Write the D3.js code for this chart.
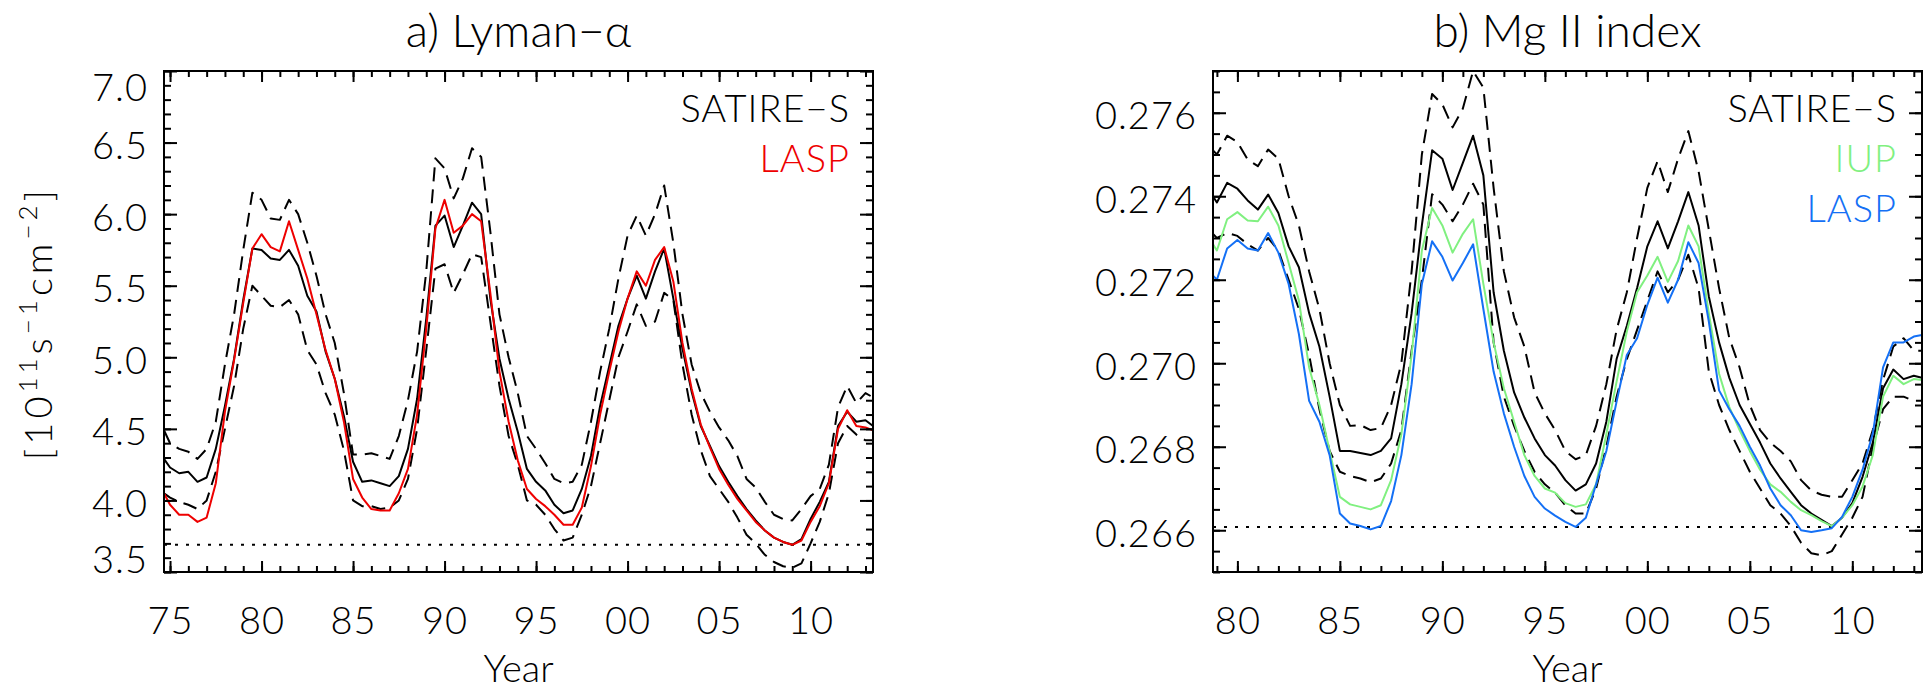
<!DOCTYPE html>
<html>
<head>
<meta charset="utf-8">
<script src="https://cdn.jsdelivr.net/npm/d3@7"></script>
<style>
  body { margin: 0; background: #fff; }
  text { font-family: Lato, "Open Sans", "DejaVu Sans", sans-serif; font-weight: 300; fill: #000; }
</style>
</head>
<body>
<script>
var W = 1926, H = 692,
    top_ = 71, bottom = 572;

// ---- a) Lyman-alpha, 10^11 s^-1 cm^-2
var yearsA = [1974.67, 1975, 1975.5, 1976, 1976.5, 1977, 1977.5, 1978, 1978.5, 1979, 1979.5,
  1980, 1980.5, 1981, 1981.5, 1982, 1982.5, 1983, 1983.5, 1984, 1984.5, 1985, 1985.5, 1986, 1986.5,
  1987, 1987.5, 1988, 1988.5, 1989, 1989.5, 1990, 1990.5, 1991, 1991.5, 1992, 1992.5, 1993, 1993.5,
  1994, 1994.5, 1995, 1995.5, 1996, 1996.5, 1997, 1997.5, 1998, 1998.5, 1999, 1999.5, 2000, 2000.5,
  2001, 2001.5, 2002, 2002.5, 2003, 2003.5, 2004, 2004.5, 2005, 2005.5, 2006, 2006.5, 2007, 2007.5,
  2008, 2008.5, 2009, 2009.5, 2010, 2010.5, 2011, 2011.5, 2012, 2012.5, 2013, 2013.41];

var lyaSatire = [4.29, 4.23, 4.19, 4.20, 4.13, 4.16, 4.36, 4.66, 4.99, 5.40,
  5.76, 5.75, 5.69, 5.68, 5.75, 5.64, 5.43, 5.32, 5.04, 4.85,
  4.59, 4.27, 4.13, 4.14, 4.12, 4.10, 4.17, 4.36, 4.71, 5.27,
  5.92, 5.99, 5.77, 5.92, 6.08, 6.00, 5.41, 4.99, 4.71, 4.48,
  4.22, 4.13, 4.07, 3.97, 3.91, 3.93, 4.08, 4.31, 4.66, 4.94,
  5.22, 5.41, 5.57, 5.41, 5.60, 5.76, 5.41, 5.06, 4.76, 4.52,
  4.38, 4.24, 4.13, 4.03, 3.94, 3.86, 3.79, 3.74, 3.71, 3.69,
  3.73, 3.87, 3.99, 4.13, 4.52, 4.62, 4.55, 4.56, 4.52];

var lyaUpper = [4.49, 4.40, 4.36, 4.34, 4.29, 4.36, 4.55, 4.95, 5.30, 5.75,
  6.15, 6.10, 5.97, 5.96, 6.10, 6.00, 5.80, 5.57, 5.30, 5.10,
  4.75, 4.32, 4.32, 4.33, 4.31, 4.29, 4.45, 4.70, 5.04, 5.60,
  6.39, 6.32, 6.11, 6.25, 6.46, 6.40, 5.88, 5.30, 5.00, 4.75,
  4.45, 4.36, 4.26, 4.15, 4.12, 4.13, 4.25, 4.55, 4.90, 5.20,
  5.55, 5.85, 5.99, 5.85, 6.00, 6.20, 5.80, 5.30, 4.95, 4.75,
  4.62, 4.51, 4.42, 4.31, 4.15, 4.09, 3.99, 3.90, 3.87, 3.86,
  3.94, 4.03, 4.08, 4.25, 4.65, 4.80, 4.68, 4.75, 4.72];

var lyaLower = [4.05, 4.02, 3.99, 3.97, 3.94, 4.00, 4.20, 4.50, 4.80, 5.20,
  5.50, 5.43, 5.36, 5.35, 5.40, 5.30, 5.05, 4.95, 4.75, 4.60,
  4.35, 4.00, 3.96, 3.96, 3.94, 3.95, 4.00, 4.15, 4.50, 5.05,
  5.62, 5.65, 5.45, 5.58, 5.72, 5.70, 5.25, 4.80, 4.45, 4.25,
  4.00, 3.97, 3.90, 3.80, 3.72, 3.74, 3.90, 4.10, 4.40, 4.70,
  5.00, 5.18, 5.37, 5.22, 5.25, 5.45, 5.40, 4.95, 4.60, 4.35,
  4.17, 4.08, 3.99, 3.88, 3.76, 3.70, 3.62, 3.57, 3.54, 3.53,
  3.56, 3.70, 3.85, 4.05, 4.40, 4.52, 4.46, 4.42, 4.42];

var lyaLasp = [4.05, 3.97, 3.90, 3.90, 3.85, 3.88, 4.12, 4.62, 4.98, 5.38,
  5.76, 5.86, 5.77, 5.74, 5.95, 5.75, 5.55, 5.30, 5.05, 4.85,
  4.55, 4.15, 4.02, 3.94, 3.93, 3.93, 4.05, 4.22, 4.60, 5.20,
  5.90, 6.10, 5.87, 5.92, 6.00, 5.95, 5.45, 4.90, 4.55, 4.28,
  4.08, 4.01, 3.96, 3.90, 3.83, 3.83, 3.95, 4.24, 4.60, 4.90,
  5.18, 5.41, 5.60, 5.50, 5.68, 5.77, 5.53, 5.10, 4.78, 4.53,
  4.37, 4.22, 4.11, 4.01, 3.93, 3.85, 3.79, 3.74, 3.71, 3.69,
  3.72, 3.85, 3.96, 4.12, 4.50, 4.63, 4.52, 4.51, 4.49];

var lyaMinLevel = 3.69;

// ---- b) Mg II index
var yearsB = [1978.81, 1979, 1979.5, 1980, 1980.5, 1981, 1981.5, 1982, 1982.5, 1983, 1983.5,
  1984, 1984.5, 1985, 1985.5, 1986, 1986.5, 1987, 1987.5, 1988, 1988.5, 1989, 1989.5, 1990, 1990.5,
  1991, 1991.5, 1992, 1992.5, 1993, 1993.5, 1994, 1994.5, 1995, 1995.5, 1996, 1996.5, 1997, 1997.5,
  1998, 1998.5, 1999, 1999.5, 2000, 2000.5, 2001, 2001.5, 2002, 2002.5, 2003, 2003.5, 2004, 2004.5,
  2005, 2005.5, 2006, 2006.5, 2007, 2007.5, 2008, 2008.5, 2009, 2009.5, 2010, 2010.5, 2011, 2011.5,
  2012, 2012.5, 2013, 2013.40];

var mgSatire = [0.27400, 0.27385, 0.27432, 0.27418, 0.27390, 0.27368, 0.27404, 0.27360, 0.27280, 0.27230,
  0.27120, 0.27040, 0.26920, 0.26790, 0.26790, 0.26785, 0.26780, 0.26790, 0.26820, 0.26950,
  0.27120, 0.27330, 0.27510, 0.27490, 0.27415, 0.27480, 0.27545, 0.27450, 0.27170, 0.27030,
  0.26930, 0.26870, 0.26820, 0.26780, 0.26755, 0.26720, 0.26695, 0.26710, 0.26760, 0.26860,
  0.27010, 0.27090, 0.27180, 0.27280, 0.27340, 0.27275, 0.27340, 0.27410, 0.27330, 0.27160,
  0.27050, 0.26965, 0.26900, 0.26855, 0.26810, 0.26760, 0.26724, 0.26692, 0.26660, 0.26640,
  0.26625, 0.26610, 0.26630, 0.26665, 0.26728, 0.26810, 0.26940, 0.26985, 0.26962, 0.26970, 0.26965];

var mgUpper = [0.27510, 0.27500, 0.27545, 0.27530, 0.27488, 0.27472, 0.27512, 0.27490, 0.27400, 0.27330,
  0.27220, 0.27130, 0.27000, 0.26900, 0.26850, 0.26852, 0.26840, 0.26845, 0.26900, 0.27000,
  0.27220, 0.27500, 0.27645, 0.27620, 0.27565, 0.27610, 0.27700, 0.27660, 0.27420, 0.27220,
  0.27110, 0.27040, 0.26930, 0.26880, 0.26840, 0.26790, 0.26770, 0.26780, 0.26850, 0.26950,
  0.27080, 0.27170, 0.27300, 0.27420, 0.27484, 0.27410, 0.27490, 0.27556, 0.27460, 0.27320,
  0.27180, 0.27060, 0.26990, 0.26900, 0.26840, 0.26810, 0.26790, 0.26765, 0.26720, 0.26695,
  0.26685, 0.26680, 0.26680, 0.26720, 0.26760, 0.26840, 0.26960, 0.27040, 0.27060, 0.27030, 0.27030];

var mgLower = [0.27310, 0.27300, 0.27312, 0.27305, 0.27285, 0.27270, 0.27300, 0.27270, 0.27200, 0.27130,
  0.27020, 0.26890, 0.26790, 0.26740, 0.26730, 0.26724, 0.26715, 0.26724, 0.26760, 0.26840,
  0.27030, 0.27200, 0.27405, 0.27380, 0.27340, 0.27380, 0.27430, 0.27380, 0.27050, 0.26920,
  0.26850, 0.26790, 0.26740, 0.26710, 0.26690, 0.26660, 0.26640, 0.26640, 0.26700, 0.26800,
  0.26920, 0.27010, 0.27080, 0.27150, 0.27220, 0.27170, 0.27200, 0.27260, 0.27180, 0.26980,
  0.26900, 0.26840, 0.26790, 0.26740, 0.26700, 0.26660, 0.26640, 0.26610, 0.26570, 0.26545,
  0.26540, 0.26550, 0.26590, 0.26630, 0.26680, 0.26800, 0.26890, 0.26920, 0.26920, 0.26910, 0.26910];

var mgIup = [0.27285, 0.27270, 0.27345, 0.27362, 0.27342, 0.27340, 0.27375, 0.27330, 0.27240, 0.27150,
  0.26990, 0.26900, 0.26790, 0.26680, 0.26662, 0.26656, 0.26650, 0.26660, 0.26720, 0.26830,
  0.27020, 0.27270, 0.27372, 0.27330, 0.27265, 0.27310, 0.27345, 0.27190, 0.27050, 0.26940,
  0.26860, 0.26780, 0.26730, 0.26700, 0.26690, 0.26665, 0.26656, 0.26662, 0.26710, 0.26830,
  0.26956, 0.27076, 0.27170, 0.27210, 0.27255, 0.27195, 0.27245, 0.27330, 0.27280, 0.27120,
  0.26975, 0.26895, 0.26840, 0.26790, 0.26745, 0.26710, 0.26692, 0.26668, 0.26648, 0.26636,
  0.26622, 0.26610, 0.26630, 0.26660, 0.26705, 0.26780, 0.26920, 0.26970, 0.26950, 0.26962, 0.26960];

var mgLasp = [0.27210, 0.27200, 0.27275, 0.27295, 0.27275, 0.27270, 0.27312, 0.27265, 0.27190, 0.27070,
  0.26910, 0.26860, 0.26780, 0.26640, 0.26616, 0.26610, 0.26602, 0.26610, 0.26670, 0.26780,
  0.26950, 0.27190, 0.27292, 0.27255, 0.27198, 0.27240, 0.27285, 0.27130, 0.26980, 0.26880,
  0.26800, 0.26730, 0.26680, 0.26652, 0.26635, 0.26620, 0.26608, 0.26630, 0.26710, 0.26790,
  0.26908, 0.27020, 0.27060, 0.27140, 0.27205, 0.27145, 0.27200, 0.27290, 0.27240, 0.27100,
  0.26935, 0.26890, 0.26850, 0.26800, 0.26755, 0.26700, 0.26660, 0.26636, 0.26600, 0.26596,
  0.26600, 0.26605, 0.26632, 0.26680, 0.26745, 0.26832, 0.26990, 0.27050, 0.27050, 0.27064, 0.27068];

var mgMinLevel = 0.26608;

// ticks
var xTicksA = [1975, 1980, 1985, 1990, 1995, 2000, 2005, 2010],
    xTicksB = [1980, 1985, 1990, 1995, 2000, 2005, 2010],
    yTicksA = [3.5, 4.0, 4.5, 5.0, 5.5, 6.0, 6.5, 7.0],
    yTicksB = [0.266, 0.268, 0.270, 0.272, 0.274, 0.276];

var svg = d3.select("body").append("svg")
    .attr("width", W).attr("height", H);

function panel(p) {
  var x = d3.scaleLinear().domain(p.xDomain).range([p.left, p.right]),
      y = d3.scaleLinear().domain(p.yDomain).range([bottom, top_]);

  var g = svg.append("g");

  g.append("clipPath").attr("id", p.id + "clip")
    .append("rect")
      .attr("x", p.left).attr("y", top_)
      .attr("width", p.right - p.left).attr("height", bottom - top_);

  var plot = g.append("g").attr("clip-path", "url(#" + p.id + "clip)");

  // reference level
  plot.append("line")
      .attr("x1", p.left).attr("x2", p.right)
      .attr("y1", y(p.minLevel)).attr("y2", y(p.minLevel))
      .attr("stroke", "#000").attr("stroke-width", 2)
      .attr("stroke-dasharray", "3,8");

  var line = d3.line()
      .x(function(d, i) { return x(p.years[i]); })
      .y(function(d) { return y(d); });

  p.series.forEach(function(s) {
    plot.append("path")
        .datum(s.values)
        .attr("d", line)
        .attr("fill", "none")
        .attr("stroke", s.color)
        .attr("stroke-width", 2)
        .attr("stroke-linejoin", "round")
        .attr("stroke-dasharray", s.dash ? "14,8" : null);
  });

  // axes: major ticks inward + labels, minor ticks, mirrored on top/right
  var fmtX = function(d) { return d3.format("02d")(d % 100); };

  g.append("g").attr("transform", "translate(0," + bottom + ")")
      .call(d3.axisBottom(x).tickValues(p.xTicks).tickSize(-11).tickPadding(35).tickFormat(fmtX));
  g.append("g").attr("transform", "translate(0," + bottom + ")")
      .call(d3.axisBottom(x).tickValues(p.xMinor).tickSize(-6).tickFormat(""));
  g.append("g").attr("transform", "translate(0," + top_ + ")")
      .call(d3.axisTop(x).tickValues(p.xTicks).tickSize(-11).tickFormat(""));
  g.append("g").attr("transform", "translate(0," + top_ + ")")
      .call(d3.axisTop(x).tickValues(p.xMinor).tickSize(-6).tickFormat(""));

  var yl = g.append("g").attr("transform", "translate(" + p.left + ",0)")
      .call(d3.axisLeft(y).tickValues(p.yTicks).tickSize(-13).tickPadding(16).tickFormat(d3.format(p.yFormat)));
  g.append("g").attr("transform", "translate(" + p.left + ",0)")
      .call(d3.axisLeft(y).tickValues(p.yMinor).tickSize(-7).tickFormat(""));
  g.append("g").attr("transform", "translate(" + p.right + ",0)")
      .call(d3.axisRight(y).tickValues(p.yTicks).tickSize(-13).tickFormat(""));
  g.append("g").attr("transform", "translate(" + p.right + ",0)")
      .call(d3.axisRight(y).tickValues(p.yMinor).tickSize(-7).tickFormat(""));

  g.selectAll(".domain").remove();
  g.selectAll(".tick line").attr("stroke", "#000").attr("stroke-width", 2);
  g.selectAll(".tick text").attr("font-size", 38).attr("font-family", null).attr("letter-spacing", 1);

  // keep end labels inside the frame like IDL does
  yl.selectAll(".tick text")
      .attr("dy", "0.42em")
      .attr("y", function(d) {
        var py = y(d);
        if (py - top_ < 20) return 14;
        if (bottom - py < 20) return -15;
        return 0;
      });

  g.append("rect")
      .attr("x", p.left).attr("y", top_)
      .attr("width", p.right - p.left).attr("height", bottom - top_)
      .attr("fill", "none").attr("stroke", "#000").attr("stroke-width", 2);

  g.append("text")
      .attr("x", (p.left + p.right) / 2).attr("y", 47)
      .attr("text-anchor", "middle").attr("font-size", 46)
      .text(p.title);

  g.append("text")
      .attr("x", (p.left + p.right) / 2).attr("y", 682)
      .attr("text-anchor", "middle").attr("font-size", 38)
      .text("Year");

  p.legend.forEach(function(l, i) {
    g.append("text")
        .attr("x", p.right - p.legendInset).attr("y", 122 + i * 50)
        .attr("text-anchor", "end").attr("font-size", 38)
        .attr("letter-spacing", 1)
        .style("fill", l.color)
        .text(l.name);
  });
}

panel({
  id: "a", left: 164, right: 873,
  xDomain: [1974.67, 2013.41], yDomain: [3.5, 7.0],
  xTicks: xTicksA, xMinor: d3.range(1975, 2014),
  yTicks: yTicksA, yMinor: d3.range(35, 71).map(function(v) { return v / 10; }),
  yFormat: ".1f",
  years: yearsA, minLevel: lyaMinLevel,
  series: [
    {values: lyaUpper, color: "#000", dash: true},
    {values: lyaLower, color: "#000", dash: true},
    {values: lyaSatire, color: "#000"},
    {values: lyaLasp, color: "#ee0000"}
  ],
  title: "a) Lyman\u2212\u03b1",
  legendInset: 23,
  legend: [{name: "SATIRE\u2212S", color: "#000"}, {name: "LASP", color: "#ee0000"}]
});

panel({
  id: "b", left: 1213, right: 1922,
  xDomain: [1978.81, 2013.40], yDomain: [0.265, 0.277],
  xTicks: xTicksB, xMinor: d3.range(1979, 2014),
  yTicks: yTicksB, yMinor: d3.range(530, 555).map(function(v) { return v / 2000; }),
  yFormat: ".3f",
  years: yearsB, minLevel: mgMinLevel,
  series: [
    {values: mgUpper, color: "#000", dash: true},
    {values: mgLower, color: "#000", dash: true},
    {values: mgSatire, color: "#000"},
    {values: mgIup, color: "#80f080"},
    {values: mgLasp, color: "#1470f5"}
  ],
  title: "b) Mg II index",
  legendInset: 25,
  legend: [{name: "SATIRE\u2212S", color: "#000"}, {name: "IUP", color: "#80f080"}, {name: "LASP", color: "#1470f5"}]
});

// y label of panel a
var ylab = svg.append("text")
    .attr("transform", "translate(52,323) rotate(-90)")
    .attr("text-anchor", "middle")
    .attr("font-size", 38)
    .attr("letter-spacing", 4);
ylab.append("tspan").text("[10");
ylab.append("tspan").attr("dy", -15).attr("font-size", 26).text("11");
ylab.append("tspan").attr("dy", 15).text("s");
ylab.append("tspan").attr("dy", -15).attr("font-size", 26).text("\u22121");
ylab.append("tspan").attr("dy", 15).text("cm");
ylab.append("tspan").attr("dy", -15).attr("font-size", 26).text("\u22122");
ylab.append("tspan").attr("dy", 15).text("]");
</script>
</body>
</html>
